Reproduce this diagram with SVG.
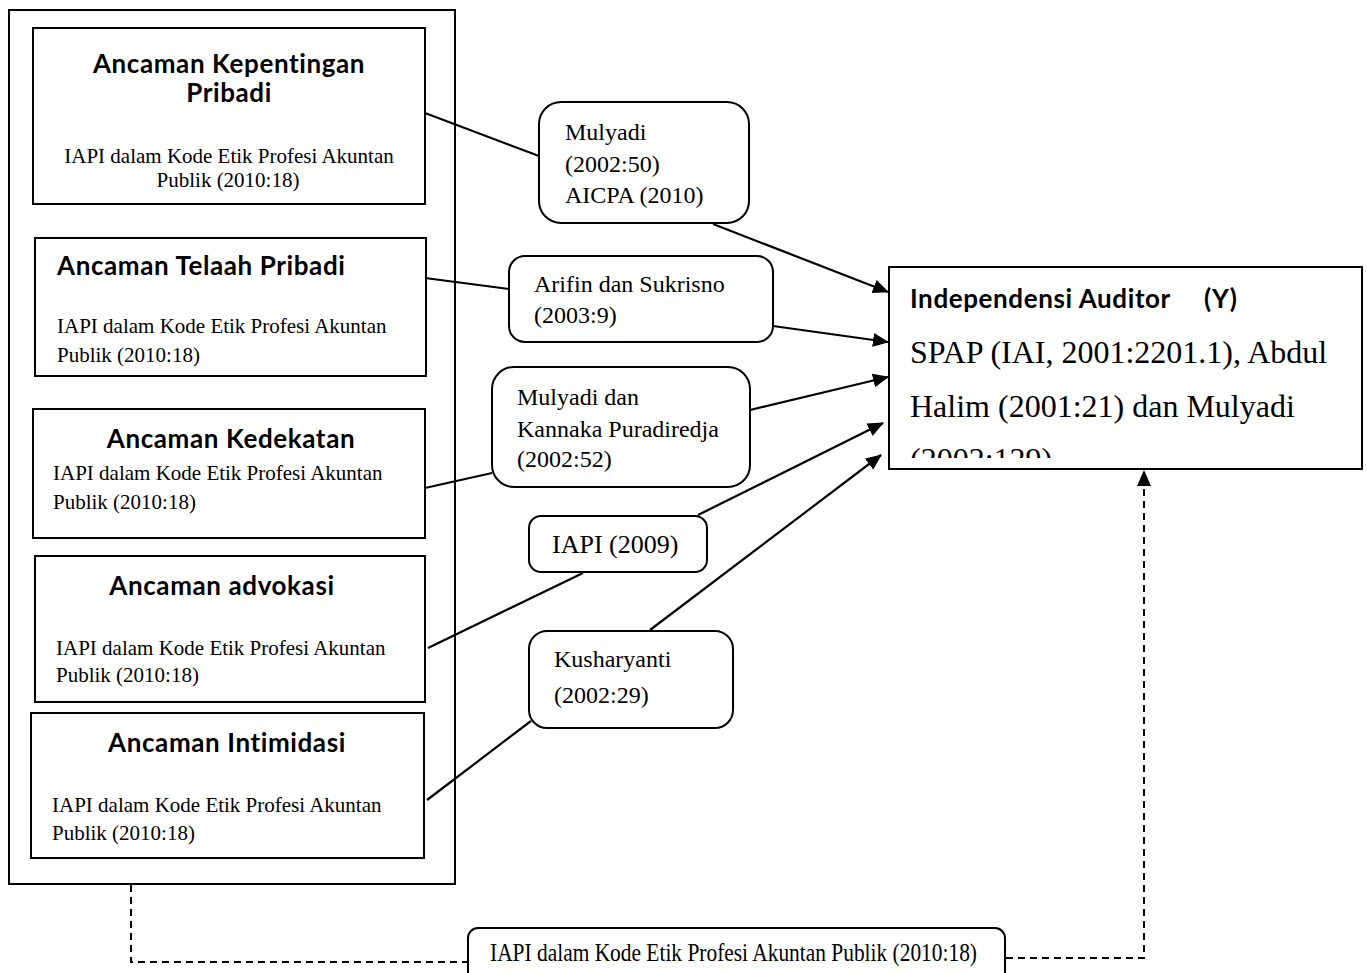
<svg xmlns="http://www.w3.org/2000/svg" width="1367" height="973" viewBox="0 0 1367 973">
<style>
.box{fill:#fff;stroke:#000;stroke-width:2}
.rbox{fill:#fff;stroke:#000;stroke-width:2}
.title{font-family:Lato,"Open Sans","Liberation Sans",sans-serif;font-weight:700;font-size:26px;letter-spacing:0.6px;fill:#000}
.body{font-family:"Liberation Serif","Times New Roman",serif;font-size:21px;fill:#000}
.ref{font-family:"Liberation Serif","Times New Roman",serif;font-size:24px;fill:#000}
.conn{stroke:#000;stroke-width:2.2;fill:none}
.dash{stroke:#000;stroke-width:2;fill:none;stroke-dasharray:7 5}
</style>
<defs>
<marker id="arr" markerWidth="16" markerHeight="14" refX="15" refY="7" orient="auto" markerUnits="userSpaceOnUse">
<path d="M0,0 L16,7 L0,14 Z" fill="#000"/>
</marker>
<clipPath id="yclip"><rect x="889" y="267" width="473" height="191"/></clipPath>
</defs>
<rect width="1367" height="973" fill="#fff"/>

<g id="outer">
<rect class="box" x="9" y="10" width="446" height="874"/>
</g>

<g id="n1">
<rect class="box" x="33" y="28" width="392" height="176"/>
<text class="title" x="229" y="73" text-anchor="middle">Ancaman Kepentingan</text>
<text class="title" x="229" y="102" text-anchor="middle">Pribadi</text>
<text class="body" x="229" y="163" text-anchor="middle">IAPI dalam Kode Etik Profesi Akuntan</text>
<text class="body" x="228" y="187" text-anchor="middle">Publik (2010:18)</text>
</g>

<g id="n2">
<rect class="box" x="35" y="238" width="391" height="138"/>
<text class="title" x="57" y="275">Ancaman Telaah Pribadi</text>
<text class="body" x="57" y="333">IAPI dalam Kode Etik Profesi Akuntan</text>
<text class="body" x="57" y="362">Publik (2010:18)</text>
</g>

<g id="n3">
<rect class="box" x="33" y="409" width="392" height="129"/>
<text class="title" x="231" y="448" text-anchor="middle">Ancaman Kedekatan</text>
<text class="body" x="53" y="480">IAPI dalam Kode Etik Profesi Akuntan</text>
<text class="body" x="53" y="509">Publik (2010:18)</text>
</g>

<g id="n4">
<rect class="box" x="35" y="556" width="390" height="146"/>
<text class="title" x="222" y="595" text-anchor="middle">Ancaman advokasi</text>
<text class="body" x="56" y="655">IAPI dalam Kode Etik Profesi Akuntan</text>
<text class="body" x="56" y="682">Publik (2010:18)</text>
</g>

<g id="n5">
<rect class="box" x="31" y="713" width="393" height="145"/>
<text class="title" x="227" y="752" text-anchor="middle">Ancaman Intimidasi</text>
<text class="body" x="52" y="812">IAPI dalam Kode Etik Profesi Akuntan</text>
<text class="body" x="52" y="840">Publik (2010:18)</text>
</g>

<g id="connectors">
<line class="conn" x1="425" y1="113" x2="539" y2="156"/>
<line class="conn" x1="713" y1="224" x2="888" y2="292" marker-end="url(#arr)"/>
<line class="conn" x1="425" y1="278" x2="509" y2="289"/>
<line class="conn" x1="773" y1="326" x2="888" y2="342" marker-end="url(#arr)"/>
<line class="conn" x1="425" y1="488" x2="492" y2="473"/>
<line class="conn" x1="750" y1="410" x2="888" y2="377" marker-end="url(#arr)"/>
<line class="conn" x1="428" y1="648" x2="583" y2="573"/>
<line class="conn" x1="698" y1="515" x2="883" y2="423" marker-end="url(#arr)"/>
<line class="conn" x1="427" y1="800" x2="531" y2="721"/>
<line class="conn" x1="650" y1="630" x2="881" y2="455" marker-end="url(#arr)"/>
<polyline class="dash" points="131,885 131,962 468,962"/>
<polyline class="dash" points="1006,958 1144,958 1144,486"/>
<path d="M1144,470 L1151,486 L1137,486 Z" fill="#000"/>
</g>

<g id="r1">
<rect class="rbox" x="539" y="102" width="210" height="121" rx="22"/>
<text class="ref" x="565" y="140">Mulyadi</text>
<text class="ref" x="565" y="172">(2002:50)</text>
<text class="ref" x="565" y="203">AICPA (2010)</text>
</g>

<g id="r2">
<rect class="rbox" x="509" y="256" width="264" height="86" rx="16"/>
<text class="ref" x="534" y="292">Arifin dan Sukrisno</text>
<text class="ref" x="534" y="323">(2003:9)</text>
</g>

<g id="r3">
<rect class="rbox" x="492" y="367" width="258" height="120" rx="22"/>
<text class="ref" x="517" y="405">Mulyadi dan</text>
<text class="ref" x="517" y="437">Kannaka Puradiredja</text>
<text class="ref" x="517" y="467">(2002:52)</text>
</g>

<g id="r4">
<rect class="rbox" x="529" y="516" width="178" height="56" rx="12"/>
<text class="ref" x="552" y="553" style="font-size:26px">IAPI (2009)</text>
</g>

<g id="r5">
<rect class="rbox" x="529" y="631" width="204" height="97" rx="18"/>
<text class="ref" x="554" y="667">Kusharyanti</text>
<text class="ref" x="554" y="703">(2002:29)</text>
</g>

<g id="target">
<rect class="box" x="889" y="267" width="473" height="202"/>
<text class="title" x="910" y="308">Independensi Auditor<tspan x="1204">(Y)</tspan></text>
<g clip-path="url(#yclip)">
<text class="ref" x="910" y="363" style="font-size:32px">SPAP (IAI, 2001:2201.1), Abdul</text>
<text class="ref" x="910" y="417" style="font-size:32px">Halim (2001:21) dan Mulyadi</text>
<text class="ref" x="910" y="470" style="font-size:32px">(2002:129)</text>
</g>
</g>

<g id="bottom">
<rect class="rbox" x="468" y="928" width="537" height="60" rx="10"/>
<text class="ref" x="490" y="961" style="font-size:25px" textLength="487" lengthAdjust="spacingAndGlyphs">IAPI dalam Kode Etik Profesi Akuntan Publik (2010:18)</text>
</g>
</svg>
